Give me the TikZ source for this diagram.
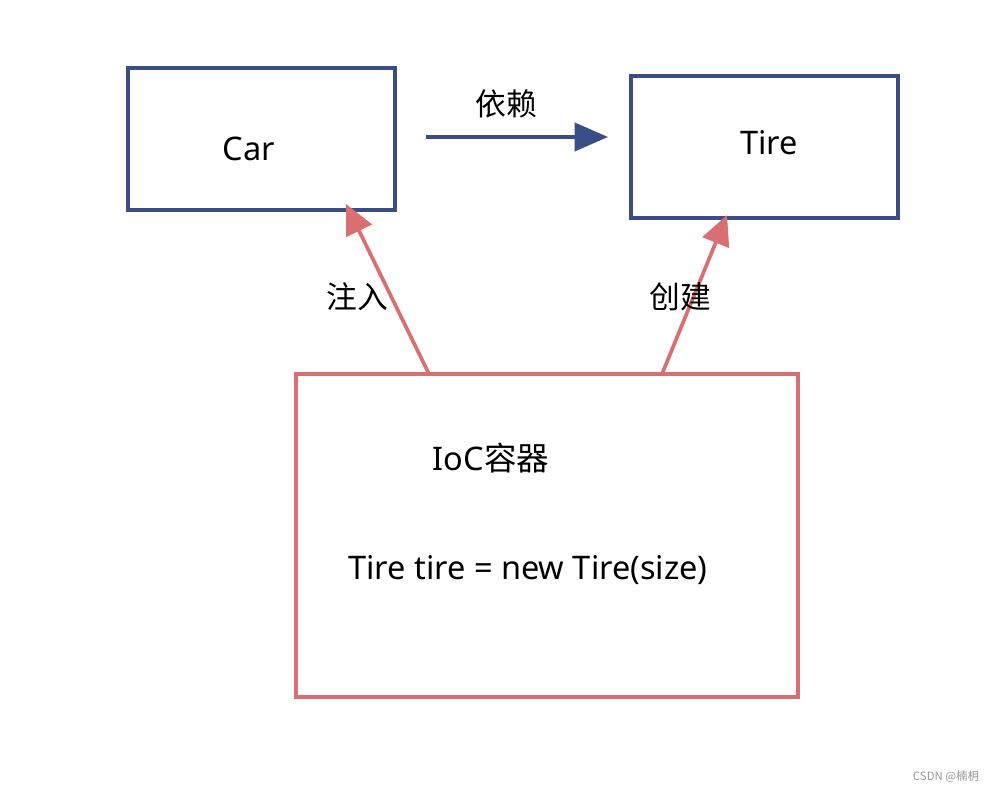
\documentclass[tikz,border=0pt]{standalone}
\usepackage{fontspec}
\setmainfont{Noto Sans}
\newfontfamily\cjk{Noto Sans CJK SC}
\usetikzlibrary{arrows.meta}
\definecolor{navy}{HTML}{3B4D85}
\definecolor{rosy}{HTML}{D96F70}
\begin{document}
\begin{tikzpicture}[x=0.02cm,y=-0.02cm,
  navybox/.style={draw=navy,line width=2.1pt},
  redbox/.style={draw=rosy,line width=2.1pt},
  lbl/.style={font=\fontsize{18.5}{21}\selectfont,inner sep=0pt},
  cjklbl/.style={font=\cjk\fontsize{17.5}{20}\selectfont,inner sep=0pt},
  navyarrow/.style={draw=navy,line width=2.1pt,-{Triangle[length=19pt,width=16pt]}},
  redarrow/.style={draw=rosy,line width=2.1pt,-{Triangle[length=17pt,width=16pt]}}]
\useasboundingbox[fill=white] (0,0) rectangle (995,793);
\draw[navybox] (128,68) rectangle (395,210);
\draw[navybox] (631,76) rectangle (898,218);
\draw[redbox] (296,374) rectangle (798,697);
\node[lbl] (car) at (249,149) {Car};
\node[lbl] (tire) at (769,143) {Tire};
\coordinate (d1) at (426,137);
\coordinate (d2) at (608,137);
\draw[navyarrow] (d1) -- (d2);
\node[cjklbl] (dep) at (506,104) {依赖};
\coordinate (i1) at (429,374);
\coordinate (i2) at (346,204);
\draw[redarrow] (i1) -- (i2);
\node[cjklbl] (inj) at (357,297) {注入};
\coordinate (c1) at (662,374);
\coordinate (c2) at (727,215);
\draw[redarrow] (c1) -- (c2);
\node[cjklbl] (cre) at (680,297) {创建};
\node[lbl] (ioc) at (491,458) {IoC{\cjk 容器}};
\node[lbl] (code) at (528,570) {Tire tire = new Tire(size)};
\node[font=\cjk\fontsize{6.5}{8}\selectfont,text=gray!80,inner sep=0pt] (wm) at (946,777) {CSDN @楠枂};
\end{tikzpicture}
\end{document}
